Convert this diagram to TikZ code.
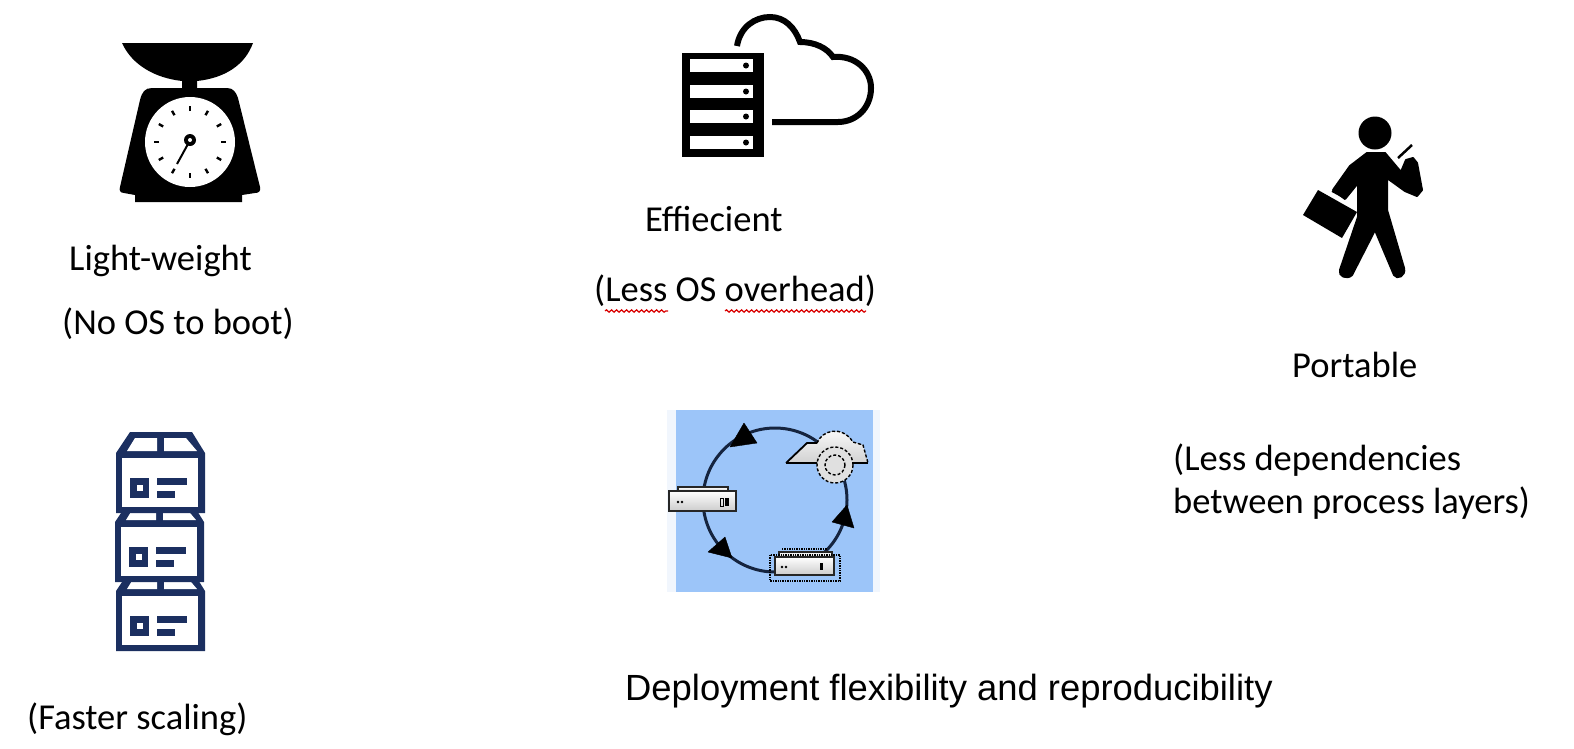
\documentclass[tikz,border=0pt]{standalone}
\usepackage{fontspec}
\setmainfont{Carlito}
\newfontfamily\arialfont{Liberation Sans}
\usetikzlibrary{decorations.pathmorphing}
\definecolor{boxnavy}{HTML}{1B2F60}
\definecolor{skyblue}{HTML}{9CC5F9}
\definecolor{paleblue}{HTML}{F1F6FD}
\definecolor{ringnavy}{HTML}{15243F}
\tikzset{
  caption/.style={anchor=west, inner sep=0pt, font=\fontsize{36.5}{40}\selectfont},
  squiggle/.style={red!85!black, line width=1.2pt, decorate, decoration={snake, amplitude=1.2pt, segment length=5pt}},
  slot/.style={fill=white, draw=none},
  ringtip/.style={fill=black, draw=black, line join=round},
  minirack/.style={draw=black!85, line width=2.6pt, top color=white, bottom color=black!20},
}
\begin{document}
\begin{tikzpicture}[x=1pt, y=-1pt]
  \useasboundingbox (0, 0) rectangle (1574, 748);
  \fill[black] (122, 43) -- (253, 43) .. controls (245, 65) and (225, 78) .. (197, 81) -- (197, 88) -- (227, 88)
    .. controls (233, 88) and (236, 92) .. (238, 98) -- (260, 187) .. controls (261, 191) and (259, 193) .. (255, 193)
    -- (242, 195) -- (242, 202) -- (135, 202) -- (135, 195) -- (124, 193) .. controls (120, 193) and (119, 190) .. (120, 187)
    -- (140, 100) .. controls (142, 92) and (145, 88) .. (152, 88) -- (182, 88) -- (182, 81) .. controls (155, 78) and (132, 65) .. (122, 43) -- cycle;
  \fill[white] (190, 142) circle [radius = 45];
  \foreach \a in {0,30,...,330}{
    \draw[line width=2.4pt] (190, 142) ++(\a:31) -- ++(\a:5);
  }
  \fill (190, 140) circle [radius = 6];
  \fill[white] (190, 140) circle [radius = 2];
  \draw[line width=2pt] (188, 144) -- (177, 164);

  \fill (682, 53) rectangle (764, 157);
  \foreach \y in {59, 85, 110, 136}{
    \fill[slot] (690, \y) rectangle (753, \y + 13);
    \fill (746, \y + 6.5) circle [radius = 3];
  }
  \draw[line width=6pt] (737, 46) .. controls (740, 27) and (755, 17) .. (770, 17) .. controls (785, 17) and (795, 28) .. (800, 42)
    .. controls (815, 42) and (827, 48) .. (833, 57) .. controls (855, 55) and (871, 70) .. (871, 88)
    .. controls (871, 108) and (856, 122) .. (838, 122) -- (772, 122);

  \fill (1375, 133) circle [radius = 16.5];
  \filldraw[line width=2pt, line join=round] (1367, 153) -- (1385, 153) -- (1401, 172) -- (1406, 160) -- (1413, 158) -- (1417, 163) -- (1422, 190)
    -- (1417, 196) -- (1405, 191) -- (1387, 178) -- (1387, 210) -- (1404, 268) .. controls (1406, 276) and (1397, 280) .. (1394, 275)
    -- (1375, 230) -- (1352, 275) .. controls (1347, 280) and (1338, 276) .. (1340, 270) -- (1358, 217) -- (1358, 183) -- (1345, 199)
    -- (1333, 190) -- (1350, 166) -- cycle;
  \draw[line width=2.5pt] (1398, 158) -- (1412, 145);
  \fill (1318, 190) -- (1357, 212) -- (1342, 238) -- (1303, 215) -- cycle;
  \draw[line width=2pt] (1332, 191) -- (1345, 198);

  \foreach \off/\dx in {138/0, 69/-1, 0/0}{
  \begin{scope}[shift={(\dx, \off)}]
    \fill[boxnavy] (130, 432) -- (192, 432) -- (205, 453) -- (205, 513) -- (116, 513) -- (116, 453) -- cycle;
    \fill[white] (127, 451) -- (135, 438) -- (157, 438) -- (157, 451) -- cycle;
    \fill[white] (164, 451) -- (164, 438) -- (186, 438) -- (197, 451) -- cycle;
    \fill[white] (122, 458) rectangle (198, 507);
    \fill[boxnavy] (130, 478) rectangle (149, 498);
    \fill[white] (137, 485) rectangle (143, 491);
    \fill[boxnavy] (157, 478) rectangle (187, 485);
    \fill[boxnavy] (157, 491) rectangle (175, 498);
  \end{scope}
  }

  \fill[paleblue] (667, 410) rectangle (880, 592);
  \fill[skyblue] (676, 410) rectangle (873, 592);
  \draw[ringnavy, line width=3pt] (775, 500) circle [radius = 72];
  \fill[ringtip] (744, 423) -- (757, 443) -- (730, 447) -- cycle;
  \fill[ringtip] (725, 537) -- (732, 558) -- (708, 552) -- cycle;
  \fill[ringtip] (847, 505) -- (854, 528) -- (832, 522) -- cycle;
  \draw[minirack] (678, 487) rectangle (728, 492);
  \draw[minirack] (669, 491) rectangle (736, 511);
  \foreach \x in {678, 682}{
    \fill (\x, 502) circle [radius = 1.4];
  }
  \fill (725, 498) rectangle (729, 506);
  \draw[line width=.8pt] (720, 498) rectangle (723, 506);
  \draw[minirack] (779, 552) rectangle (832, 557);
  \draw[minirack] (775, 557) rectangle (834, 575);
  \foreach \x in {782, 786}{
    \fill (\x, 567) circle [radius = 1.4];
  }
  \fill (820, 563) rectangle (823, 570);
  \draw[line width=1.4pt, densely dotted] (782, 549) -- (827, 549);
  \draw[line width=1.4pt, densely dotted] (770, 555) rectangle (840, 581);
  \fill[top color=white, bottom color=black!18] (786, 463) -- (807, 443) -- (817, 443) .. controls (822, 430) and (842, 425) .. (853, 442) -- (863, 445) -- (868, 463) -- cycle;
  \draw[line width=1.8pt] (786, 463) -- (868, 463);
  \draw[line width=1.8pt] (786, 463) -- (807, 443) -- (817, 443);
  \draw[line width=1.4pt, densely dashed] (817, 443) .. controls (822, 430) and (842, 425) .. (853, 442) -- (863, 445) -- (868, 463);
  \fill[black!12] (835, 465) circle [radius = 18];
  \draw[line width=1.4pt, densely dashed] (835, 465) circle [radius = 18];
  \draw[line width=1.4pt, densely dashed] (835, 465) circle [radius = 10];

  \node[caption] (lightname) at (69, 261) {Light-weight};
  \node[caption] (lightnote) at (62, 324) {(No OS to boot)};
  \node[caption] (effname) at (645, 219) {Effiecient};
  \node[caption] (effnote) at (594, 291) {(Less OS overhead)};
  \node[caption] (portname) at (1292, 365) {Portable};
  \node[caption] (portnotea) at (1173, 460) {(Less dependencies};
  \node[caption] (portnoteb) at (1173, 503) {between process layers)};
  \node[caption, font=\arialfont\fontsize{36.4}{40}\selectfont] (deployname) at (625, 691) {Deployment flexibility and reproducibility};
  \node[caption] (scalenote) at (27, 719) {(Faster scaling)};
  \draw[squiggle] (605, 311) -- (668, 311);
  \draw[squiggle] (725, 311) -- (866, 311);
\end{tikzpicture}
\end{document}
